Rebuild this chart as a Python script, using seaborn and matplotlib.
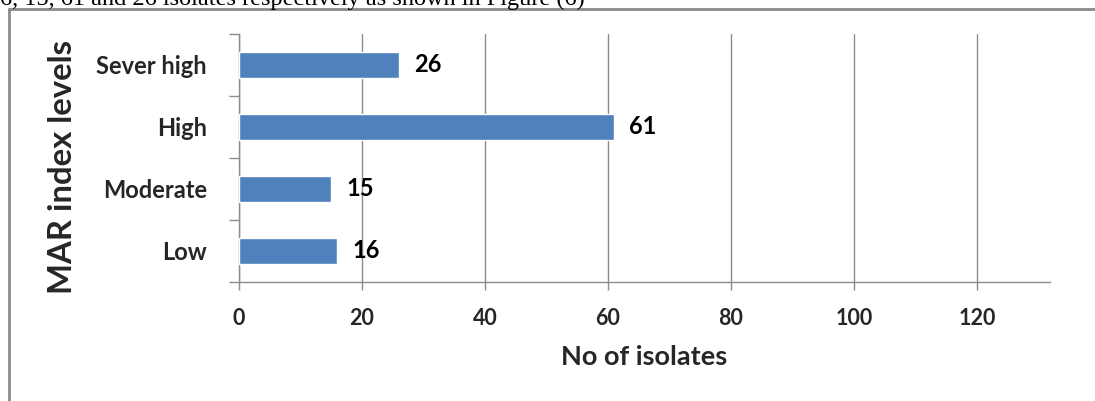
import matplotlib
matplotlib.use("Agg")
import matplotlib.pyplot as plt
import matplotlib.lines as mlines
import seaborn as sns
import pandas as pd

# MAR index level distribution
levels = ["Sever high", "High", "Moderate", "Low"]
isolates = [26, 61, 15, 16]
x_ticks = [0, 20, 40, 60, 80, 100, 120]

df = pd.DataFrame({"level": levels, "isolates": isolates})

sns.set_theme(style="white")
plt.rcParams["font.family"] = ["Lato", "DejaVu Sans"]

W, H = 1095, 401
fig = plt.figure(figsize=(W / 100, H / 100), dpi=100)
fig.patch.set_facecolor("white")

ax = fig.add_axes([239 / W, 1 - 282 / H, (1050 - 239) / W, (282 - 34) / H])

sns.barplot(data=df, x="isolates", y="level", order=levels, orient="h",
            color="#4F81BD", saturation=1, width=0.41, ax=ax, zorder=3)

ax.set_xlim(0, 131.9)
ax.set_ylim(len(levels) - 0.5, -0.5)

grid_c = "#8c8c8c"
ax.set_xticks(x_ticks)
ax.set_xticklabels([str(t) for t in x_ticks], fontsize=15.5, fontweight="bold")
ax.grid(axis="x", color=grid_c, linewidth=1, zorder=0)
ax.tick_params(axis="x", direction="out", length=6, width=1, color=grid_c,
               pad=13, bottom=True)

# category boundaries as tick marks, labels centred on the bars
ax.set_yticks([i - 0.5 for i in range(len(levels) + 1)])
ax.set_yticklabels([])
ax.tick_params(axis="y", which="major", direction="out", length=7, width=1,
               color=grid_c, left=True)
ax.set_yticks(range(len(levels)), minor=True)
ax.set_yticklabels(levels, minor=True, fontsize=17, fontweight="bold")
ax.tick_params(axis="y", which="minor", length=0, pad=23)

for side in ["top", "right"]:
    ax.spines[side].set_visible(False)
for side in ["left", "bottom"]:
    ax.spines[side].set_color(grid_c)
    ax.spines[side].set_linewidth(1)

for c in ax.containers:
    ax.bar_label(c, labels=[str(v) for v in isolates], padding=11,
                 fontsize=17, fontweight="bold", color="black")

ax.set_xlabel("No of isolates", fontsize=19.5, fontweight="bold", labelpad=11)
ax.set_ylabel("MAR index levels", fontsize=23.7, fontweight="bold",
              ha="center", va="center", rotation=90, rotation_mode="default")
ax.yaxis.set_label_coords(-(239 - 63) / (1050 - 239), 0.462)

# surrounding frame of the chart object
frame_c = "#8a8a8a"
fig.add_artist(mlines.Line2D([9 / W, 9 / W], [0, 1 - 9 / H], color=frame_c,
                             linewidth=2, transform=fig.transFigure))
fig.add_artist(mlines.Line2D([9 / W, 1], [1 - 9 / H, 1 - 9 / H], color=frame_c,
                             linewidth=2, transform=fig.transFigure))

# running text line above the chart
fig.text(0.0, 1 - 5 / H, "6, 15, 61 and 26 isolates respectively as shown in Figure (6)",
         fontsize=17.5, family="Liberation Serif", va="baseline", ha="left",
         color="black")

fig.savefig("out.png", dpi=100, facecolor="white")
